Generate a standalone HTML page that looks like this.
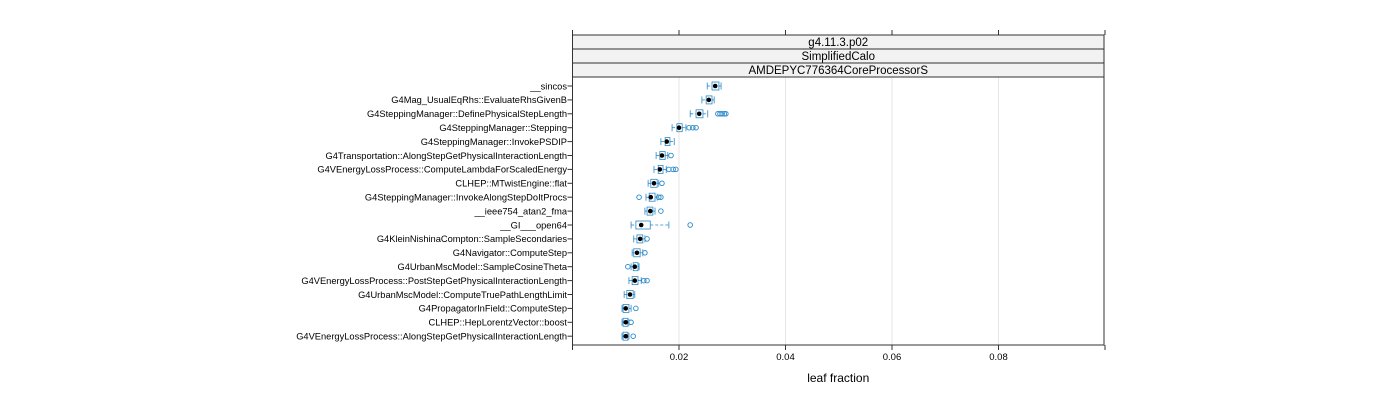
<!DOCTYPE html>
<html><head><meta charset="utf-8"><style>
html,body{margin:0;padding:0;background:#fff;width:1400px;height:400px;overflow:hidden}
svg{font-family:"Liberation Sans",sans-serif}
</style></head><body>
<svg id="c" width="1400" height="400"></svg>
<script>
const categories=["__sincos","G4Mag_UsualEqRhs::EvaluateRhsGivenB","G4SteppingManager::DefinePhysicalStepLength","G4SteppingManager::Stepping","G4SteppingManager::InvokePSDIP","G4Transportation::AlongStepGetPhysicalInteractionLength","G4VEnergyLossProcess::ComputeLambdaForScaledEnergy","CLHEP::MTwistEngine::flat","G4SteppingManager::InvokeAlongStepDoItProcs","__ieee754_atan2_fma","__GI___open64","G4KleinNishinaCompton::SampleSecondaries","G4Navigator::ComputeStep","G4UrbanMscModel::SampleCosineTheta","G4VEnergyLossProcess::PostStepGetPhysicalInteractionLength","G4UrbanMscModel::ComputeTruePathLengthLimit","G4PropagatorInField::ComputeStep","CLHEP::HepLorentzVector::boost","G4VEnergyLossProcess::AlongStepGetPhysicalInteractionLength"];
const q1=[.0262,.0251,.0232,.0196,.0174,.0164,.0161,.0147,.0144,.0140,.0119,.0121,.0115,.0114,.0112,.0102,.0095,.0095,.0095];
const med=[.0268,.0256,.0238,.0200,.0177,.0168,.0164,.0153,.0147,.0146,.0129,.0127,.0121,.0117,.0117,.0108,.0100,.0100,.0100];
const q3=[.0275,.0262,.0245,.0206,.0183,.0174,.0170,.0159,.0155,.0151,.0146,.0132,.0127,.0123,.0123,.0114,.0106,.0104,.0104];
const whLo=[.0253,.0243,.0221,.0187,.0166,.0157,.0153,.0142,.0138,.0136,.0110,.0115,.0112,.0110,.0106,.0097,.0093,.0093,.0093];
const whHi=[.0279,.0266,.0254,.0213,.0191,.0179,.0176,.0162,.0159,.0155,.0181,.0136,.0132,.0125,.0129,.0117,.0110,.0106,.0106];
const outliers=[[],[],[.0273,.0277,.0281,.0285,.0288],[.0219,.0226,.0232],[],[.0185],[.0181,.0189,.0194],[.0168],[.0125,.0162,.0166],[.0166],[.0221],[.0140],[.0136],[.0104],[.0134,.0140],[],[.0119],[.0110],[.0114]];
const xTicks=[0.02,0.04,0.06,0.08];
const xTickLabels=["0.02","0.04","0.06","0.08"];
const strips=["g4.11.3.p02","SimplifiedCalo","AMDEPYC776364CoreProcessorS"];

const svg=document.getElementById('c');const NS="http://www.w3.org/2000/svg";
function mk(t,a,p){const e=document.createElementNS(NS,t);for(const k in a)e.setAttribute(k,a[k]);(p||svg).appendChild(e);return e;}
const L=572.5,R=1104,T=35,B=345,PT=77;
const xs=v=>L+v*5325;
const ys=i=>86+i*13.9;
const dk="#2a88c8";
for(let i=0;i<xTicks.length;i++){
 const g=mk('line',{x1:xs(xTicks[i]),x2:xs(xTicks[i]),y1:PT,y2:B,stroke:'#e6e6e6','stroke-width':1});
 
 
}
const frame=mk('rect',{x:L,y:T,width:R-L,height:B-T,fill:'none',stroke:'#333','stroke-width':1});


for(let s=0;s<strips.length;s++){
 const r=mk('rect',{x:L,y:T+s*14,width:R-L,height:14,fill:'#f2f2f2',stroke:'#333','stroke-width':1});
 
 
 const t=mk('text',{x:(L+R)/2,y:T+s*14+11,'text-anchor':'middle','font-size':'11.5',fill:'#000'});
 t.textContent=strips[s];
 
 
}
const allT=[0,...xTicks,0.1];
for(const v of allT){
 mk('line',{x1:xs(v),x2:xs(v),y1:B,y2:B+5,stroke:'#333'});
 mk('line',{x1:xs(v),x2:xs(v),y1:T-5,y2:T,stroke:'#333'});
}
for(let i=0;i<xTicks.length;i++){
 const t=mk('text',{x:xs(xTicks[i]),y:360,'text-anchor':'middle','font-size':'9.5',fill:'#000'});
 t.textContent=xTickLabels[i];
 
 
}
const xt=mk('text',{x:(L+R)/2,y:382,'text-anchor':'middle','font-size':'12',fill:'#000'});
xt.textContent="leaf fraction";


for(let i=0;i<categories.length;i++){
 const y=ys(i);
 mk('line',{x1:L-5,x2:L,y1:y,y2:y,stroke:'#333'});
 const t=mk('text',{x:567,y:y+3.3,'text-anchor':'end','font-size':'9.3',fill:'#000'});
 t.textContent=categories[i];
 
 
 const g=mk('g',{});
 
 
 mk('line',{x1:xs(whLo[i]),x2:xs(q1[i]),y1:y,y2:y,stroke:dk,'stroke-width':0.8,'stroke-dasharray':'3,2'},g);
 mk('line',{x1:xs(q3[i]),x2:xs(whHi[i]),y1:y,y2:y,stroke:dk,'stroke-width':0.8,'stroke-dasharray':'3,2'},g);
 mk('line',{x1:xs(whLo[i]),x2:xs(whLo[i]),y1:y-3.5,y2:y+3.5,stroke:dk,'stroke-width':0.8},g);
 mk('line',{x1:xs(whHi[i]),x2:xs(whHi[i]),y1:y-3.5,y2:y+3.5,stroke:dk,'stroke-width':0.8},g);
 mk('rect',{x:xs(q1[i]),y:y-4,width:xs(q3[i])-xs(q1[i]),height:8,fill:'none',stroke:dk,'stroke-width':0.8},g);
 mk('circle',{cx:xs(med[i]),cy:y,r:2.3,fill:'#000'},g);
 for(const o of outliers[i]) mk('circle',{cx:xs(o),cy:y,r:2.3,fill:'none',stroke:dk,'stroke-width':0.9},g);
}
</script>
</body></html>
